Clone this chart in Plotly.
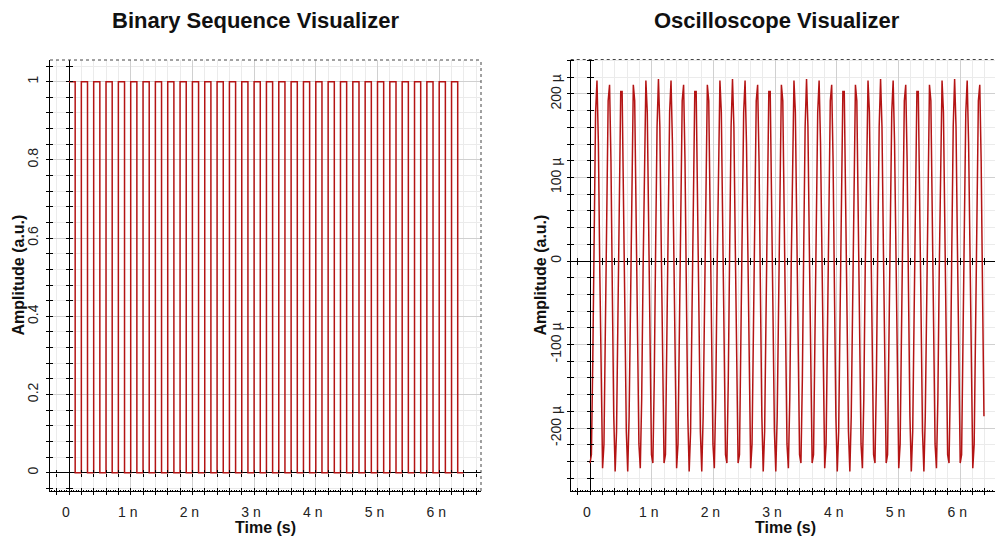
import numpy as np
import plotly.graph_objects as go

W, H = 995, 541

# ---------------- data ----------------
BIT_PERIOD_NS = 0.1
BITS = [1, 0, 1, 0, 1, 0, 1, 0, 1, 0, 1, 0, 1, 0, 1, 0,
        1, 0, 1, 0, 1, 0, 1, 0, 1, 0, 1, 0, 1, 0, 1, 0,
        1, 0, 1, 0, 1, 0, 1, 0, 1, 0, 1, 0, 1, 0, 1, 0,
        1, 0, 1, 0, 1, 0, 1, 0, 1, 0, 1, 0, 1, 0, 1, 0]

OSC_DT_NS = 0.022642          # sample spacing of the oscilloscope trace
OSC_MICRO = [                 # amplitude in micro a.u.
    -242, -232, -118, 45, 178, 216, 142, -10, -165, -248, -219, -92, 71, 192, 211, 120, -38, -186, -252, -204,
    -65, 96, 203, 203, 96, -65, -204, -252, -186, -38, 120, 211, 192, 71, -92, -219, -248, -165, -10, 142,
    216, 178, 45, -118, -232, -242, -142, 18, 161, 218, 161, 18, -142,
    -242, -232, -118, 45, 178, 216, 142, -10, -165, -248, -219, -92, 71, 192, 211, 120, -38, -186, -252, -204,
    -65, 96, 203, 203, 96, -65, -204, -252, -186, -38, 120, 211, 192, 71, -92, -219, -248, -165, -10, 142,
    216, 178, 45, -118, -232, -242, -142, 18, 161, 218, 161, 18, -142,
    -242, -232, -118, 45, 178, 216, 142, -10, -165, -248, -219, -92, 71, 192, 211, 120, -38, -186, -252, -204,
    -65, 96, 203, 203, 96, -65, -204, -252, -186, -38, 120, 211, 192, 71, -92, -219, -248, -165, -10, 142,
    216, 178, 45, -118, -232, -242, -142, 18, 161, 218, 161, 18, -142,
    -242, -232, -118, 45, 178, 216, 142, -10, -165, -248, -219, -92, 71, 192, 211, 120, -38, -186, -252, -204,
    -65, 96, 203, 203, 96, -65, -204, -252, -186, -38, 120, 211, 192, 71, -92, -219, -248, -165, -10, 142,
    216, 178, 45, -118, -232, -242, -142, 18, 161, 218, 161, 18, -142,
    -242, -232, -118, 45, 178, 216, 142, -10, -165, -248, -219, -92, 71, 192, 211, 120, -38, -186, -252, -204,
    -65, 96, 203, 203, 96, -65, -204, -252, -186, -38, 120, 211, 192, 71, -92, -219, -248, -165, -10, 142,
    216, 178, 45, -118, -232, -242, -142, 18, 161, 218, 161, 18, -142,
    -242, -232, -118, 45, 178, 216, 142, -10, -165, -248, -219, -92, 71, 192, 211, 120, -38, -186,
]

X_TICK_ALIAS = {"1": "1 n", "2": "2 n", "3": "3 n", "4": "4 n", "5": "5 n", "6": "6 n"}
YR_TICK_ALIAS = {"200": "200 µ", "100": "100 µ",
                 "\u2212100": "-100 µ", "\u2212200": "-200 µ",
                 "-100": "-100 µ", "-200": "-200 µ"}

TITLE_L = "Binary Sequence Visualizer"
TITLE_R = "Oscilloscope Visualizer"
X_TITLE = "Time (s)"
Y_TITLE = "Amplitude (a.u.)"

# ---------------- styling ----------------
FONT = "Liberation Sans, Arial, sans-serif"
RED = "rgb(180,20,20)"
GRID_MAJOR = "#d0d0d0"
GRID_MINOR = "#ebebeb"
TICKFONT = dict(family=FONT, size=14, color="#222")

bit_t = np.arange(len(BITS) + 1) * BIT_PERIOD_NS
bit_y = BITS + [BITS[-1]]
osc_t = np.arange(len(OSC_MICRO)) * OSC_DT_NS

fig = go.Figure()
fig.add_trace(go.Scatter(x=bit_t, y=bit_y, mode="lines",
                         line=dict(color=RED, width=1.5, shape="hv"),
                         xaxis="x", yaxis="y", showlegend=False, hoverinfo="skip"))
fig.add_trace(go.Scatter(x=osc_t, y=OSC_MICRO, mode="lines",
                         line=dict(color=RED, width=1.5),
                         xaxis="x5", yaxis="y5", showlegend=False, hoverinfo="skip"))


def fx(p):
    return p / W


def fy(p):
    return 1 - p / H


def nm(prefix, i):
    return prefix + ("" if i == 1 else str(i))


layout = {}
shapes = []


def build(b, px_x, px_y, xr, yr, xmaj, xmin, ymaj, ymin, xalias, yalias, right_border, ystand):
    dx = [fx(px_x[0]), fx(px_x[1])]
    dy = [fy(px_y[1]), fy(px_y[0])]
    xm, ym = nm("x", b), nm("y", b)
    # paper positions of data zero
    px0 = dx[0] + (0 - xr[0]) / (xr[1] - xr[0]) * (dx[1] - dx[0])
    py0 = dy[0] + (0 - yr[0]) / (yr[1] - yr[0]) * (dy[1] - dy[0])

    common = dict(fixedrange=True, zeroline=False)
    layout[nm("xaxis", b)] = dict(
        domain=dx, range=xr, anchor=ym, showline=True, linecolor="black", linewidth=1,
        ticks="outside", ticklen=3, tickcolor="black", tickmode="linear", tick0=0, dtick=xmaj,
        labelalias=xalias, tickfont=TICKFONT, ticklabelshift=-3, ticklabelstandoff=5,
        showgrid=True, gridcolor=GRID_MAJOR, gridwidth=1,
        zeroline=True, zerolinecolor="black", zerolinewidth=1,
        minor=dict(tick0=0, dtick=xmin, ticks="outside", ticklen=3, tickcolor="black",
                   showgrid=True, gridcolor=GRID_MINOR, gridwidth=1),
        fixedrange=True)
    layout[nm("yaxis", b)] = dict(
        domain=dy, range=yr, anchor=xm, showline=True, linecolor="black", linewidth=1,
        ticks="outside", ticklen=3, tickcolor="black", tickmode="linear", tick0=0, dtick=ymaj,
        labelalias=yalias, tickfont=TICKFONT, tickangle=-90, ticklabelstandoff=ystand,
        showgrid=True, gridcolor=GRID_MAJOR, gridwidth=1,
        zeroline=True, zerolinecolor="black", zerolinewidth=1,
        minor=dict(tick0=0, dtick=ymin, ticks="outside", ticklen=3, tickcolor="black",
                   showgrid=True, gridcolor=GRID_MINOR, gridwidth=1),
        fixedrange=True)
    # inside ticks on the outer bottom / left axes
    layout[nm("xaxis", b + 1)] = dict(
        overlaying=xm, anchor=ym, range=xr, tickmode="linear", tick0=0, dtick=xmin,
        ticks="inside", ticklen=3, tickcolor="black", showticklabels=False,
        showgrid=False, showline=False,
        minor=dict(tick0=0, dtick=xmin / 5, ticks="inside", ticklen=1.5, tickcolor="black",
                   showgrid=False), **common)
    layout[nm("yaxis", b + 1)] = dict(
        overlaying=ym, anchor=xm, range=yr, tickmode="linear", tick0=0, dtick=ymin,
        ticks="inside", ticklen=3, tickcolor="black", showticklabels=False,
        showgrid=False, showline=False, **common)
    # ticks crossing the inner axes (through data zero)
    for k, side in ((2, "outside"), (3, "inside")):
        layout[nm("xaxis", b + k)] = dict(
            overlaying=xm, anchor="free", position=py0, range=xr, tickmode="linear", tick0=0,
            dtick=xmin, ticks=side, ticklen=3, tickcolor="black", showticklabels=False,
            showgrid=False, showline=False, **common)
        layout[nm("yaxis", b + k)] = dict(
            overlaying=ym, anchor="free", position=px0, range=yr, tickmode="linear", tick0=0,
            dtick=ymin, ticks=side, ticklen=3, tickcolor="black", showticklabels=False,
            showgrid=False, showline=False, **common)
    for k in (1, 2, 3):
        fig.add_trace(go.Scatter(x=[None], y=[None], xaxis=nm("x", b + k), yaxis=ym,
                                 showlegend=False, hoverinfo="skip"))
        fig.add_trace(go.Scatter(x=[None], y=[None], xaxis=xm, yaxis=nm("y", b + k),
                                 showlegend=False, hoverinfo="skip"))
    # dotted frame (top, and right when visible)
    shapes.append(dict(type="line", xref=xm + " domain", yref=ym + " domain",
                       x0=0, x1=1, y0=1, y1=1, line=dict(color="#444", width=1, dash="dot")))
    if right_border:
        shapes.append(dict(type="line", xref=xm + " domain", yref=ym + " domain",
                           x0=1, x1=1, y0=0, y1=1, line=dict(color="#444", width=1, dash="dot")))


# left: x=0 at 69 px, 61.7 px per ns
build(1, (50, 481), (60, 491), [-0.3079, 6.6775], [-0.0468, 1.0555],
      1, 0.2, 0.2, 0.04, X_TICK_ALIAS, {}, True, 2)
# right: x=0 at 590 px
build(5, (570.7, 995), (59.5, 491), [-0.3128, 6.564], [-275.4, 241.3],
      1, 0.2, 100, 20, X_TICK_ALIAS, YR_TICK_ALIAS, False, 0)

ann = []
for cx, t in ((255, TITLE_L), (777, TITLE_R)):
    ann.append(dict(text="<b>%s</b>" % t, x=fx(cx), y=fy(20), xref="paper", yref="paper",
                    showarrow=False, xanchor="center", yanchor="middle",
                    font=dict(family=FONT, size=22, color="#111")))
for cx in (265, 785):
    ann.append(dict(text="<b>%s</b>" % X_TITLE, x=fx(cx), y=fy(527), xref="paper", yref="paper",
                    showarrow=False, xanchor="center", yanchor="middle",
                    font=dict(family=FONT, size=16, color="#111")))
for cx in (18, 540):
    ann.append(dict(text="<b>%s</b>" % Y_TITLE, x=fx(cx), y=fy(275.5), xref="paper", yref="paper",
                    showarrow=False, xanchor="center", yanchor="middle", textangle=-90,
                    font=dict(family=FONT, size=16, color="#111")))

fig.update_layout(width=W, height=H, margin=dict(l=0, r=0, t=0, b=0),
                  paper_bgcolor="white", plot_bgcolor="white", showlegend=False,
                  annotations=ann, shapes=shapes, **layout)

fig.write_html("out.html")
